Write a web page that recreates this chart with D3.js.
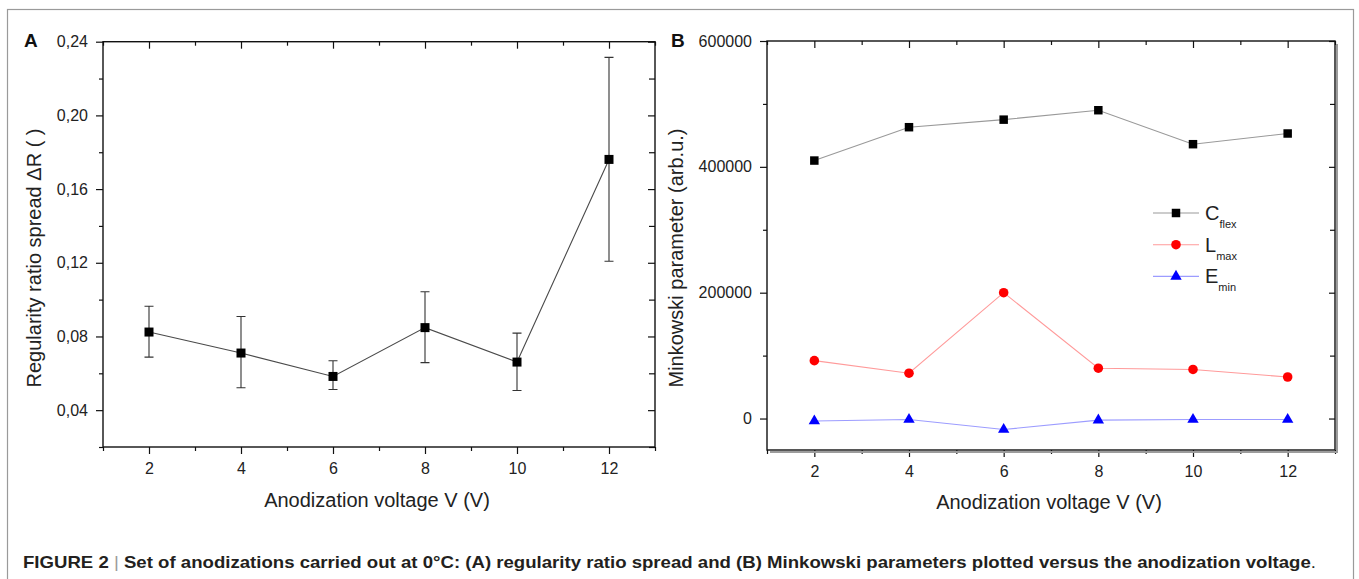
<!DOCTYPE html>
<html>
<head>
<meta charset="utf-8">
<script src="https://cdn.jsdelivr.net/npm/d3@7"></script>
<style>
body { margin: 0; background: #fff; }
svg { display: block; font-family: "Liberation Sans", Arial, sans-serif; }
.axis text { font-size: 16px; fill: #222; font-family: "Liberation Sans", Arial, sans-serif; }
.axis line { stroke: #111; stroke-width: 1.2; }
.axis .domain { display: none; }
</style>
</head>
<body>
<svg id="fig" width="1359" height="579"></svg>
<script>
// values
const voltages = [2, 4, 6, 8, 10, 12];
const voltTicks = [2, 4, 6, 8, 10, 12];
const voltMinor = [1, 3, 5, 7, 9, 11, 13];

const spread = [0.0824, 0.0710, 0.0583, 0.0848, 0.0661, 0.1761];
const spreadHi = [0.0964, 0.0908, 0.0668, 0.1043, 0.0818, 0.2315];
const spreadLo = [0.0688, 0.0522, 0.0512, 0.0658, 0.0507, 0.1208];
const spreadTicks = [0.04, 0.08, 0.12, 0.16, 0.20, 0.24];
const spreadMinor = [0.02, 0.06, 0.10, 0.14, 0.18, 0.22];

const cFlex = [410000, 463000, 475000, 490000, 436000, 453000];
const lMax = [92000, 72000, 200000, 80000, 78000, 66000];
const eMin = [-4000, -1500, -17500, -2500, -1500, -1500];
const minkTicks = [0, 200000, 400000, 600000];
const minkMinor = [-100000, 100000, 300000, 500000];

const seriesNames = [['C', 'flex'], ['L', 'max'], ['E', 'min']];

const svg = d3.select('#fig');
const commaFmt = d3.formatLocale({decimal: ',', thousands: '.', grouping: [3], currency: ['', '']}).format('.2f');

// outer figure frame
svg.append('rect')
    .attr('x', 7.5).attr('y', 9.5)
    .attr('width', 1346).attr('height', 640)
    .attr('fill', 'none').attr('stroke', '#9a9a9a').attr('stroke-width', 1.2);

class Panel {

    constructor(opts) {
        this.box = opts.box;
        this.x = d3.scaleLinear().domain([1, 13]).range([opts.box.left, opts.box.right]);
        this.y = d3.scaleLinear().domain(opts.yDomain).range([opts.box.bottom, opts.box.top]);
        this.opts = opts;
        this.g = svg.append('g');
        this.drawAxes();
    }

    drawAxes() {
        const b = this.box, o = this.opts;
        const g = this.g;
        const minor = o.yMinor.filter(v => v >= o.yDomain[0]);

        // left axis, ticks outwards
        g.append('g').attr('class', 'axis').attr('transform', `translate(${b.left},0)`)
            .call(d3.axisLeft(this.y).tickValues(o.yTicks).tickSize(7).tickPadding(o.yPad).tickFormat(o.yFmt));
        g.append('g').attr('class', 'axis').attr('transform', `translate(${b.left},0)`)
            .call(d3.axisLeft(this.y).tickValues(minor).tickSize(4).tickFormat(''));
        // right axis, ticks inwards
        g.append('g').attr('class', 'axis').attr('transform', `translate(${b.right},0)`)
            .call(d3.axisLeft(this.y).tickValues(o.yTicks).tickSize(o.rightTick).tickFormat(''));
        g.append('g').attr('class', 'axis').attr('transform', `translate(${b.right},0)`)
            .call(d3.axisLeft(this.y).tickValues(minor).tickSize(o.rightTick - 1).tickFormat(''));
        // bottom axis, ticks outwards
        g.append('g').attr('class', 'axis').attr('transform', `translate(0,${b.bottom})`)
            .call(d3.axisBottom(this.x).tickValues(voltTicks).tickSize(7).tickPadding(o.xPad).tickFormat(d3.format('d')));
        g.append('g').attr('class', 'axis').attr('transform', `translate(0,${b.bottom})`)
            .call(d3.axisBottom(this.x).tickValues(voltMinor).tickSize(4).tickFormat(''));
        // top axis, ticks inwards
        g.append('g').attr('class', 'axis').attr('transform', `translate(0,${b.top})`)
            .call(d3.axisBottom(this.x).tickValues(voltTicks).tickSize(7).tickFormat(''));
        g.append('g').attr('class', 'axis').attr('transform', `translate(0,${b.top})`)
            .call(d3.axisBottom(this.x).tickValues(voltMinor).tickSize(4).tickFormat(''));

        if (o.shadow) {
            g.append('path')
                .attr('d', `M${b.left + 3},${b.bottom + 2}H${b.right + 2}V${b.top + 3}`)
                .attr('fill', 'none').attr('stroke', '#9c9c9c').attr('stroke-width', 2);
        }
        g.append('rect')
            .attr('x', b.left).attr('y', b.top)
            .attr('width', b.right - b.left).attr('height', b.bottom - b.top)
            .attr('fill', 'none').attr('stroke', '#111').attr('stroke-width', 1.4);

        g.append('text')
            .attr('x', o.letterX).attr('y', 47)
            .attr('font-size', 19).attr('font-weight', 'bold').attr('fill', '#111')
            .text(o.letter);

        g.append('text')
            .attr('x', (b.left + b.right) / 2 - 2).attr('y', o.xTitleY)
            .attr('text-anchor', 'middle').attr('font-size', 20).attr('fill', '#222')
            .text('Anodization voltage V (V)');

        g.append('text')
            .attr('transform', `translate(${o.yTitleX},258) rotate(-90)`)
            .attr('text-anchor', 'middle').attr('font-size', 20).attr('fill', '#222')
            .text(o.yTitle);
    }

    addSeries(values, style) {
        const pts = voltages.map((v, i) => [this.x(v), this.y(values[i])]);
        this.g.append('path')
            .attr('d', d3.line()(pts))
            .attr('fill', 'none').attr('stroke', style.line).attr('stroke-width', 1.1);
        if (style.hi) {
            const cap = 4.5;
            const bars = this.g.append('g').attr('stroke', '#333').attr('stroke-width', 1.1);
            voltages.forEach((v, i) => {
                const x = this.x(v), y1 = this.y(style.hi[i]), y2 = this.y(style.lo[i]);
                bars.append('path').attr('d', `M${x},${y1}V${y2}M${x - cap},${y1}H${x + cap}M${x - cap},${y2}H${x + cap}`);
            });
        }
        this.g.selectAll(null)
            .data(pts)
            .enter()
            .append('path')
            .attr('transform', d => `translate(${d[0]},${d[1]})`)
            .attr('d', d3.symbol().type(style.symbol).size(style.size))
            .attr('fill', style.fill);
    }
}

const panelA = new Panel({
    box: {left: 103, right: 655, top: 41.7, bottom: 447},
    yDomain: [0.02, 0.24],
    yTicks: spreadTicks, yMinor: spreadMinor, yFmt: commaFmt,
    yPad: 8, xPad: 9, rightTick: 7,
    letter: 'A', letterX: 24,
    xTitleY: 507, yTitleX: 41,
    yTitle: 'Regularity ratio spread \u0394R ( )'
});
panelA.addSeries(spread, {line: '#4a4a4a', symbol: d3.symbolSquare, size: 81, fill: '#000', hi: spreadHi, lo: spreadLo});

const panelB = new Panel({
    box: {left: 767, right: 1335, top: 41, bottom: 450},
    yDomain: [-50000, 600000],
    yTicks: minkTicks, yMinor: minkMinor, yFmt: d3.format('d'),
    yPad: 8, xPad: 9, rightTick: 6, shadow: true,
    letter: 'B', letterX: 671,
    xTitleY: 509, yTitleX: 683,
    yTitle: 'Minkowski parameter (arb.u.)'
});

const seriesStyles = [
    {line: '#999', symbol: d3.symbolSquare, size: 72, fill: '#000'},
    {line: '#ff9a9a', symbol: d3.symbolCircle, size: 72, fill: '#ff0000'},
    {line: '#9c9cff', symbol: d3.symbolTriangle, size: 56, fill: '#0000ff'}
];
[cFlex, lMax, eMin].forEach((vals, i) => panelB.addSeries(vals, seriesStyles[i]));

// legend
const legend = svg.append('g').attr('transform', 'translate(1153,213)');
seriesNames.forEach((name, i) => {
    const row = legend.append('g').attr('transform', `translate(0,${i * 31.7})`);
    row.append('line').attr('x1', 0).attr('x2', 46).attr('stroke', seriesStyles[i].line).attr('stroke-width', 1.1);
    row.append('path').attr('transform', 'translate(23,0)')
        .attr('d', d3.symbol().type(seriesStyles[i].symbol).size(seriesStyles[i].size))
        .attr('fill', seriesStyles[i].fill);
    const t = row.append('text').attr('x', 52).attr('y', 7).attr('fill', '#222');
    t.append('tspan').attr('font-size', 20).text(name[0]);
    t.append('tspan').attr('font-size', 11).attr('dy', 8).text(name[1]);
});

// caption
const cap = svg.append('text')
    .attr('x', 23).attr('y', 568)
    .attr('font-size', 16.5).attr('fill', '#231f20')
    .attr('font-family', '"Liberation Sans Narrow", "Liberation Sans", Arial, sans-serif')
    .attr('textLength', 1293).attr('lengthAdjust', 'spacingAndGlyphs');
cap.append('tspan').attr('font-weight', 'bold').text('FIGURE 2 ');
cap.append('tspan').attr('fill', '#999').text('|');
cap.append('tspan').attr('font-weight', 'bold')
    .text(' Set of anodizations carried out at 0\u00b0C: (A) regularity ratio spread and (B) Minkowski parameters plotted versus the anodization voltage');
cap.append('tspan').text('.');
</script>
</body>
</html>
